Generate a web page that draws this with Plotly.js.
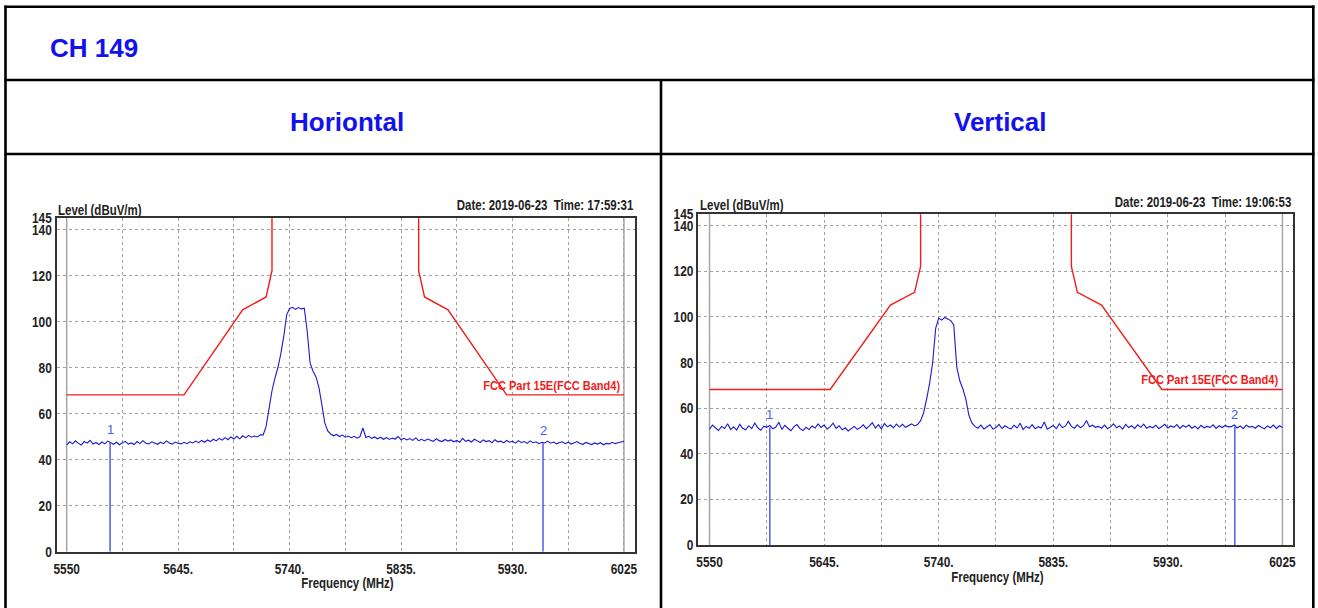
<!DOCTYPE html>
<html>
<head>
<meta charset="utf-8">
<script src="https://cdn.plot.ly/plotly-3.0.1.min.js"></script>
<style>
html,body{margin:0;padding:0;background:#fff;}
#chart{width:1318px;height:608px;}
</style>
</head>
<body>
<div id="chart"></div>
<script>
// ---------- data ----------
const pageTitle = 'CH 149';
const panelTitles = ['Horiontal', 'Vertical'];
const dateTexts = ['Date: 2019-06-23&nbsp; Time: 17:59:31', 'Date: 2019-06-23&nbsp; Time: 19:06:53'];
const yAxisLabel = 'Level (dBuV/m)';
const xAxisLabel = 'Frequency (MHz)';
const limitName = 'FCC Part 15E(FCC Band4)';

const xTickVals = [5550, 5597.5, 5645, 5692.5, 5740, 5787.5, 5835, 5882.5, 5930, 5977.5, 6025];
const xTickText = ['5550', '', '5645.', '', '5740.', '', '5835.', '', '5930.', '', '6025'];
const yTickVals = [0, 20, 40, 60, 80, 100, 120, 140, 145];
const yTickText = ['0', '20', '40', '60', '80', '100', '120', '140', '145'];

const freq = [
  5550,5552.5,5555,5557.5,5560,5562.5,5565,5567.5,5570,5572.5,
  5575,5577.5,5580,5582.5,5585,5587.5,5590,5592.5,5595,5597.5,
  5600,5602.5,5605,5607.5,5610,5612.5,5615,5617.5,5620,5622.5,
  5625,5627.5,5630,5632.5,5635,5637.5,5640,5642.5,5645,5647.5,
  5650,5652.5,5655,5657.5,5660,5662.5,5665,5667.5,5670,5672.5,
  5675,5677.5,5680,5682.5,5685,5687.5,5690,5692.5,5695,5697.5,
  5700,5702.5,5705,5707.5,5710,5712.5,5715,5717.5,5720,5722.5,
  5725,5727.5,5730,5732.5,5735,5737.5,5740,5742.5,5745,5747.5,
  5750,5752.5,5755,5757.5,5760,5762.5,5765,5767.5,5770,5772.5,
  5775,5777.5,5780,5782.5,5785,5787.5,5790,5792.5,5795,5797.5,
  5800,5802.5,5805,5807.5,5810,5812.5,5815,5817.5,5820,5822.5,
  5825,5827.5,5830,5832.5,5835,5837.5,5840,5842.5,5845,5847.5,
  5850,5852.5,5855,5857.5,5860,5862.5,5865,5867.5,5870,5872.5,
  5875,5877.5,5880,5882.5,5885,5887.5,5890,5892.5,5895,5897.5,
  5900,5902.5,5905,5907.5,5910,5912.5,5915,5917.5,5920,5922.5,
  5925,5927.5,5930,5932.5,5935,5937.5,5940,5942.5,5945,5947.5,
  5950,5952.5,5955,5957.5,5960,5962.5,5965,5967.5,5970,5972.5,
  5975,5977.5,5980,5982.5,5985,5987.5,5990,5992.5,5995,5997.5,
  6000,6002.5,6005,6007.5,6010,6012.5,6015,6017.5,6020,6022.5,
  6025
];

const levelHorizontal = [
  46.5,47.8,46.9,48.2,47.1,46.4,47.9,47.2,48.4,46.8,
  47.5,46.6,47.7,46.9,48.1,47.3,46.7,47.6,46.5,47.4,
  48.0,46.8,47.3,46.6,47.9,47.0,48.3,47.2,46.9,47.8,
  47.1,46.7,47.6,47.0,48.2,47.3,46.8,47.7,47.2,46.9,
  47.6,47.0,47.8,47.3,48.1,47.4,48.4,47.6,48.6,47.9,
  48.9,48.2,49.3,48.5,49.6,48.7,49.9,49.0,50.2,49.1,
  50.4,49.5,50.6,49.8,50.3,49.9,50.8,50.8,54.5,62.5,
  70.0,75.5,80.0,86.0,93.5,103.0,105.8,106.3,105.4,106.2,
  105.6,105.9,96.0,82.0,78.5,76.0,71.5,64.0,56.0,52.5,
  51.2,50.4,51.0,50.1,50.7,49.8,50.3,49.6,50.2,49.4,
  50.1,53.8,49.7,50.2,49.3,49.9,49.1,49.8,48.9,49.6,
  48.8,49.4,49.0,50.1,48.7,49.3,48.6,49.2,48.4,49.5,
  48.3,48.9,48.2,49.0,48.5,48.0,49.1,48.3,47.9,48.8,
  48.1,48.6,47.8,48.4,47.6,49.3,48.0,48.5,47.7,48.9,
  48.2,47.5,48.6,47.9,48.3,47.4,48.7,47.8,48.1,47.3,
  48.4,47.6,48.0,47.2,48.3,47.5,47.9,47.1,48.2,47.4,
  47.8,47.0,47.6,47.3,48.1,47.2,47.7,46.9,47.5,47.8,
  47.0,47.6,46.8,47.4,47.9,47.1,46.7,47.5,47.0,46.6,
  47.3,46.8,47.4,46.5,47.1,46.9,47.6,47.0,47.4,47.8,
  48.0
];

const levelVertical = [
  50.8,52.6,51.3,50.2,52.0,51.1,53.2,50.6,51.8,50.4,
  52.9,51.2,50.5,52.3,51.0,53.5,51.4,50.3,52.1,51.6,
  52.4,50.9,51.7,53.8,50.7,52.5,51.2,50.1,51.9,52.8,
  51.0,50.2,51.6,50.6,52.2,51.3,53.1,51.5,52.6,50.8,
  51.9,53.4,51.1,52.3,50.5,51.4,50.0,51.2,52.0,50.7,
  51.5,52.7,51.0,52.2,53.6,51.3,52.8,50.9,53.3,51.8,
  52.6,51.4,53.0,51.7,52.9,51.6,52.4,53.1,52.2,52.8,
  54.5,58.0,64.0,71.0,80.0,95.0,99.5,98.6,99.8,99.0,
  98.4,96.5,78.0,72.0,68.5,64.0,57.0,53.5,52.0,51.2,
  52.6,50.9,51.8,52.7,50.8,51.5,52.9,51.1,52.3,51.4,
  50.9,52.5,51.3,53.4,50.6,52.0,51.2,52.8,51.0,51.9,
  51.3,53.9,50.8,51.7,52.4,51.0,53.2,51.5,52.1,54.2,
  52.0,51.2,52.7,51.4,52.3,54.6,51.8,52.5,51.6,52.0,
  51.2,52.6,51.0,51.8,53.1,51.4,52.2,50.8,52.9,51.5,
  52.3,51.1,52.7,51.6,53.0,51.2,52.0,51.4,52.5,51.0,
  51.8,52.9,51.3,52.2,51.6,52.8,51.1,52.4,51.7,52.6,
  51.2,52.1,50.9,52.5,51.4,52.0,51.6,52.7,51.1,52.3,
  51.5,52.4,51.8,51.9,52.6,51.3,52.2,51.0,52.5,51.7,
  52.0,51.2,52.4,51.6,50.9,52.2,51.4,52.6,51.1,52.3,
  51.5
];

const limitFreq  = [5550, 5650, 5700, 5720, 5725, 5725, null, 5850, 5850, 5855, 5875, 5925, 6025];
const limitLevel = [68.2, 68.2, 105.2, 110.8, 122.2, 170, null, 170, 122.2, 110.8, 105.2, 68.2, 68.2];

const markerLabels = ['1', '2'];
const markerFreqH  = [5587, 5956];
const markerLevelH = [47.5, 47.3];
const markerFreqV  = [5600, 5985.5];
const markerLevelV = [51.6, 51.9];

// ---------- styling / layout ----------
const W = 1318, H = 608;
const px = v => v / W;
const py = v => 1 - v / H;

const NARROW = '"Liberation Sans", "Liberation Sans Narrow", sans-serif';
const WIDE = '"Liberation Sans", Arial, sans-serif';
const NARROW_SCALE = 0.82;
const BLUE_TEXT = '#1212ee';
const TRACE_BLUE = '#1a1ad2';
const MARK_BLUE = '#4a5ef0';
const RED = '#f21c1c';

const panels = [
  {xa: 'x', ya: 'y', xDom: [px(56.7), px(635)], yDom: [py(551.7), py(218.3)],
   range: [5541.5, 6034.4], level: levelHorizontal, mf: markerFreqH, ml: markerLevelH},
  {xa: 'x2', ya: 'y2', xDom: [px(698.3), px(1293.3)], yDom: [py(545), py(214.3)],
   range: [5540.7, 6034.0], level: levelVertical, mf: markerFreqV, ml: markerLevelV}
];

const traces = [];
const shapes = [];
const annotations = [];
const narrowAnchor = {};

panels.forEach((p, k) => {
  traces.push({x: limitFreq, y: limitLevel, xaxis: p.xa, yaxis: p.ya, mode: 'lines',
    line: {color: RED, width: 1.4}, hoverinfo: 'skip', showlegend: false, connectgaps: false});
  traces.push({x: freq, y: p.level, xaxis: p.xa, yaxis: p.ya, mode: 'lines',
    line: {color: TRACE_BLUE, width: 1.1}, hoverinfo: 'skip', showlegend: false});
  markerLabels.forEach((lab, i) => {
    traces.push({x: [p.mf[i], p.mf[i]], y: [0, p.ml[i]], xaxis: p.xa, yaxis: p.ya, mode: 'lines',
      line: {color: MARK_BLUE, width: 1.5}, hoverinfo: 'skip', showlegend: false});
    annotations.push({xref: p.xa, yref: p.ya, x: p.mf[i], y: p.ml[i], text: lab, showarrow: false,
      xanchor: 'center', yanchor: 'bottom', yshift: 3,
      font: {family: WIDE, size: 13, color: MARK_BLUE}});
  });
  [xTickVals[0], xTickVals[xTickVals.length - 1]].forEach(f => {
    shapes.push({type: 'line', xref: p.xa, yref: 'paper', x0: f, x1: f, y0: p.yDom[0], y1: p.yDom[1],
      layer: 'below', line: {color: '#a8a8a8', width: 1.5}});
  });
  annotations.push({xref: p.xa, yref: p.ya, x: 6023, y: 72.4, text: limitName, showarrow: false,
    xanchor: 'right', yanchor: 'middle', font: {family: NARROW, size: 13.5, color: RED, weight: 'bold'}});
});
narrowAnchor[limitName] = 'end';
narrowAnchor[yAxisLabel] = 'start';
narrowAnchor[xAxisLabel] = 'middle';

const levelPos = [[56, 210], [698, 205]];
const datePos = [[636, 205], [1294, 202]];
const freqPos = [[347, 583], [997, 577]];
const panelTitlePos = [[347, 122], [1000, 122]];
for (let k = 0; k < 2; k++) {
  annotations.push({xref: 'paper', yref: 'paper', x: px(levelPos[k][0]), y: py(levelPos[k][1]), text: yAxisLabel,
    showarrow: false, xanchor: 'left', yanchor: 'middle', font: {family: NARROW, size: 14, color: '#222', weight: 'bold'}});
  annotations.push({xref: 'paper', yref: 'paper', x: px(datePos[k][0]), y: py(datePos[k][1]), text: dateTexts[k],
    showarrow: false, xanchor: 'right', yanchor: 'middle', font: {family: NARROW, size: 14, color: '#222', weight: 'bold'}});
  annotations.push({xref: 'paper', yref: 'paper', x: px(freqPos[k][0]), y: py(freqPos[k][1]), text: xAxisLabel,
    showarrow: false, xanchor: 'center', yanchor: 'middle', font: {family: NARROW, size: 14, color: '#222', weight: 'bold'}});
  annotations.push({xref: 'paper', yref: 'paper', x: px(panelTitlePos[k][0]), y: py(panelTitlePos[k][1]), text: panelTitles[k],
    showarrow: false, xanchor: 'center', yanchor: 'middle', font: {family: WIDE, size: 26, color: BLUE_TEXT, weight: 'bold'}});
}
annotations.push({xref: 'paper', yref: 'paper', x: px(48), y: py(48), text: pageTitle, showarrow: false,
  xanchor: 'left', yanchor: 'middle', font: {family: WIDE, size: 26, color: BLUE_TEXT, weight: 'bold'}});

// table borders
const B = {color: '#000', width: 2.6};
const tline = (x0, y0, x1, y1) => shapes.push({type: 'line', xref: 'paper', yref: 'paper',
  x0: px(x0), y0: py(y0), x1: px(x1), y1: py(y1), line: B, layer: 'above'});
tline(4.5, 6.7, 1314.5, 6.7);
tline(5.5, 5.5, 5.5, 612);
tline(1313.3, 5.5, 1313.3, 612);
tline(4.5, 80, 1314.5, 80);
tline(4.5, 154, 1314.5, 154);
tline(661, 80, 661, 612);

const tickFont = {family: NARROW, size: 14.5, color: '#222', weight: 'bold'};
function xAxis(p) {
  return {domain: p.xDom, range: p.range, anchor: p.ya, tickmode: 'array', tickvals: xTickVals, ticktext: xTickText,
    showgrid: true, gridcolor: '#a0a0a0', gridwidth: 1, griddash: '3px,3px', zeroline: false,
    showline: true, linecolor: '#333', linewidth: 2, mirror: true,
    ticks: 'outside', ticklen: 3, tickcolor: 'rgba(0,0,0,0)', tickfont: tickFont, fixedrange: true};
}
function yAxis(p) {
  return {domain: p.yDom, range: [0, 145], anchor: p.xa, tickmode: 'array', tickvals: yTickVals, ticktext: yTickText,
    showgrid: true, gridcolor: '#a0a0a0', gridwidth: 1, griddash: '3px,3px', zeroline: false,
    showline: true, linecolor: '#333', linewidth: 2, mirror: true,
    ticks: '', tickfont: tickFont, fixedrange: true};
}

const layout = {
  width: W, height: H, margin: {l: 0, r: 0, t: 0, b: 0},
  paper_bgcolor: '#fff', plot_bgcolor: '#fff', showlegend: false,
  xaxis: xAxis(panels[0]), yaxis: yAxis(panels[0]),
  xaxis2: xAxis(panels[1]), yaxis2: yAxis(panels[1]),
  shapes: shapes, annotations: annotations
};

// condense the instrument-style texts horizontally (Arial Narrow look)
function condense(gd) {
  gd.querySelectorAll('text').forEach(el => {
    const ff = el.style.fontFamily || el.getAttribute('style') || '';
    if (ff.indexOf('Narrow') < 0) return;
    const bb = el.getBBox();
    if (!bb.width) return;
    let anchor = el.getAttribute('text-anchor') || 'start';
    if (el.classList.contains('annotation-text')) {
      const t = el.textContent;
      anchor = narrowAnchor[t] || (t.indexOf('Date') === 0 ? 'end' : anchor);
    }
    const pivot = anchor === 'end' ? bb.x + bb.width : (anchor === 'middle' ? bb.x + bb.width / 2 : bb.x);
    const tr = el.getAttribute('transform') || '';
    el.setAttribute('transform', tr + ' translate(' + pivot + ',0) scale(' + NARROW_SCALE + ',1) translate(' + (-pivot) + ',0)');
  });
}

Plotly.newPlot('chart', traces, layout, {displayModeBar: false, staticPlot: true}).then(condense);
</script>
</body>
</html>
